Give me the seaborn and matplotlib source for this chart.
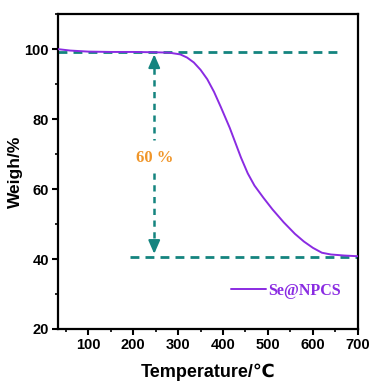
import matplotlib
matplotlib.use("Agg")
import matplotlib.pyplot as plt
import seaborn as sns
import pandas as pd
from matplotlib.ticker import MultipleLocator

temperature = [33, 60, 100, 150, 200, 250, 280, 305, 320, 335, 350, 365, 380, 395, 415, 440, 455, 470,
               490, 510, 535, 560, 580, 600, 620, 640, 670, 700]
weight = [100, 99.6, 99.3, 99.2, 99.2, 99.1, 99.0, 98.5, 97.6, 96.2, 94.1, 91.4, 87.8, 83.5, 77.5, 69, 64.5, 61,
          57.5, 54.2, 50.5, 47.2, 45, 43.2, 41.8, 41.3, 41.0, 40.8]
series_name = "Se@NPCS"
upper_level = 99.3
lower_level = 40.7
arrow_T = 247
label_text = "60 %"

sns.set_style("ticks")
plt.rcParams['font.family'] = ['Liberation Sans', 'DejaVu Sans']
plt.rcParams['text.color'] = 'black'
plt.rcParams['axes.labelcolor'] = 'black'
plt.rcParams['xtick.color'] = 'black'
plt.rcParams['ytick.color'] = 'black'
plt.rcParams['axes.edgecolor'] = 'black'

df = pd.DataFrame({"T": temperature, "W": weight})

fig = plt.figure(figsize=(3.72, 3.83), dpi=100)
ax = fig.add_axes([0.156, 0.141, 0.806, 0.822])

teal = "#14847f"
purple = "#8a2be2"
orange = "#f0962a"

ax.plot([33, 667], [upper_level, upper_level], color=teal, lw=2.0, ls=(0, (3.2, 2.2)), zorder=2)
ax.plot([193, 700], [lower_level, lower_level], color=teal, lw=2.0, ls=(0, (3.2, 2.2)), zorder=2)

sns.lineplot(data=df, x="T", y="W", color=purple, lw=1.4, ax=ax, label=series_name, zorder=3)

# vertical dashed arrows
ax.plot([arrow_T, arrow_T], [94.5, 74], color=teal, lw=1.8, ls=(0, (2.5, 2.2)))
ax.plot([arrow_T, arrow_T], [64.5, 45.5], color=teal, lw=1.8, ls=(0, (2.5, 2.2)))
ax.annotate("", xy=(arrow_T, upper_level), xytext=(arrow_T, 95.2),
            arrowprops=dict(arrowstyle="-|>,head_length=0.8,head_width=0.35", color=teal, lw=1.5))
ax.annotate("", xy=(arrow_T, lower_level), xytext=(arrow_T, 44.8),
            arrowprops=dict(arrowstyle="-|>,head_length=0.8,head_width=0.35", color=teal, lw=1.5))
ax.text(arrow_T, 69, label_text, color=orange, ha="center", va="center",
        fontsize=12, fontweight="bold", family=["Liberation Serif", "DejaVu Serif"])

ax.set_xlim(33, 700)
ax.set_ylim(20, 110)
ax.xaxis.set_major_locator(MultipleLocator(100))
ax.xaxis.set_minor_locator(MultipleLocator(50))
ax.yaxis.set_major_locator(MultipleLocator(20))
ax.yaxis.set_minor_locator(MultipleLocator(10))
ax.set_yticks([20, 40, 60, 80, 100])
ax.tick_params(which="major", direction="out", length=4, width=1.5, labelsize=10.5, pad=2.5)
ax.tick_params(which="minor", direction="out", length=2.5, width=1.2)
for lab in ax.get_xticklabels() + ax.get_yticklabels():
    lab.set_fontweight("bold")
for s in ax.spines.values():
    s.set_linewidth(1.6)
    s.set_visible(True)

ax.set_xlabel("Temperature/℃", fontsize=13, fontweight="bold", labelpad=8)
ax.set_ylabel("Weigh/%", fontsize=12.5, fontweight="bold", labelpad=1)

leg = ax.legend(loc="center right", frameon=False, handlelength=2.2, handletextpad=0.1,
                bbox_to_anchor=(0.99, 0.122), prop={"family": ["Liberation Serif", "DejaVu Serif"],
                                                   "weight": "bold", "size": 11.5})
for t in leg.get_texts():
    t.set_color(purple)

fig.savefig("out.png", dpi=100)
